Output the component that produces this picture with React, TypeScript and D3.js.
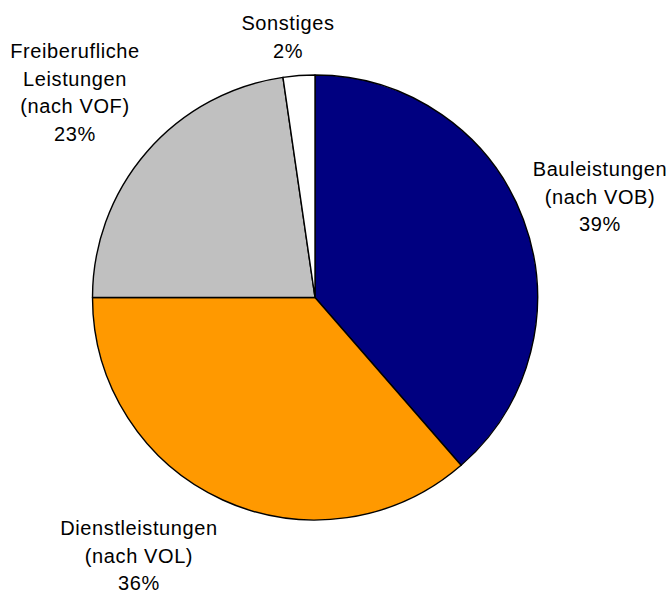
import React, { useEffect, useRef } from 'react';
import * as d3 from 'd3';

// shares (percent)
const categories = ['Bauleistungen', 'Dienstleistungen', 'Freiberufliche', 'Sonstiges'];
const values = [38.6, 36.4, 22.7, 2.3];
const labelLines = [
    ['Bauleistungen', '(nach VOB)', '39%'],
    ['Dienstleistungen', '(nach VOL)', '36%'],
    ['Freiberufliche', 'Leistungen', '(nach VOF)', '23%'],
    ['Sonstiges', '2%'],
];
const colors = ['#000080', '#FF9900', '#C0C0C0', '#FFFFFF'];

// where each label block sits (x centre, first baseline)
const labelPos = [
    { x: 600, y: 176 },
    { x: 139, y: 535 },
    { x: 75, y: 58 },
    { x: 288, y: 30 },
];

export default function App() {
    const svgRef = useRef<SVGSVGElement>(null);

    const width = 671;
    const height = 592;
    const cx = 315;
    const cy = 297.5;
    const radius = 222.5;
    const lineHeight = 27.6;

    useEffect(() => {
        const svg = d3.select(svgRef.current)
            .attr('width', width)
            .attr('height', height);

        svg.selectAll('g').remove();

        const data = categories.map((c, i) => ({ name: c, value: values[i], i }));

        const pie = d3.pie<any>()
            .value(d => d.value)
            .sort(null);

        const arc = d3.arc<any>()
            .innerRadius(0)
            .outerRadius(radius);

        const g = svg.append('g')
            .attr('transform', `translate(${cx}, ${cy})`);

        g.selectAll('path')
            .data(pie(data))
            .enter()
            .append('path')
            .attr('d', arc)
            .attr('fill', d => colors[d.data.i])
            .attr('stroke', '#000')
            .attr('stroke-width', 1.4)
            .attr('stroke-linejoin', 'round');

        const labels = svg.append('g')
            .attr('font-family', '"Liberation Sans", Arial, sans-serif')
            .attr('font-size', 20)
            .attr('fill', '#000')
            .attr('text-anchor', 'middle');

        labelLines.forEach((lines, i) => {
            const t = labels.append('text')
                .attr('x', labelPos[i].x)
                .attr('y', labelPos[i].y)
                .style('letter-spacing', '0.6px');
            lines.forEach((line, j) => {
                t.append('tspan')
                    .attr('x', labelPos[i].x)
                    .attr('y', labelPos[i].y + j * lineHeight)
                    .text(line);
            });
        });
    });

    return (
        <svg ref={svgRef} style={{ position: 'absolute', left: 0, top: 0, background: '#fff' }}></svg>
    );
}
